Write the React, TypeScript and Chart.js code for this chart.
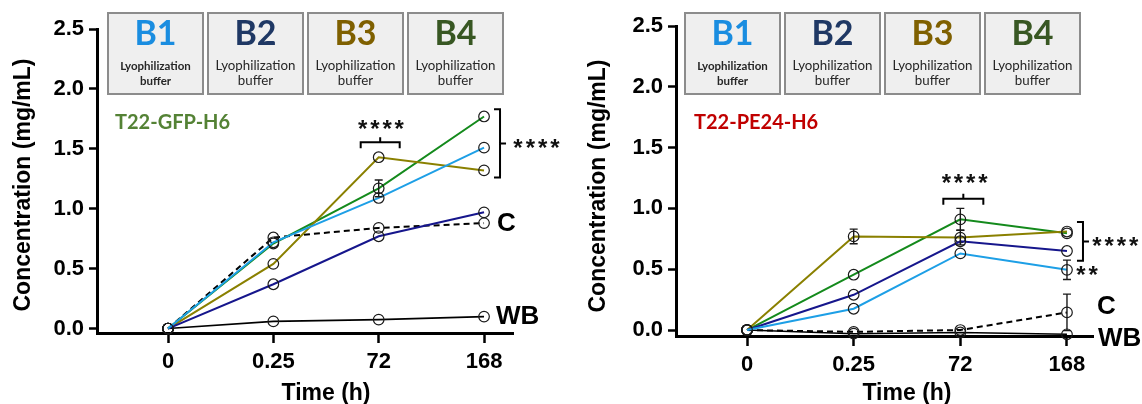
import React, { useEffect, useRef } from "react";
import { Chart, registerables } from "chart.js";

Chart.register(...registerables);

// ---------------- data ----------------
const timeLabels = ["0", "0.25", "72", "168"];
const yTickValues = [0, 0.5, 1.0, 1.5, 2.0, 2.5];
const bufferNames = ["B1", "B2", "B3", "B4"];
const bufferLine1 = "Lyophilization";
const bufferLine2 = "buffer";
const bufferTitleColors = ["#1a8de0", "#1f3864", "#7f6000", "#385723"];
const seriesNames = ["B1", "B2", "B3", "B4", "C", "WB"];
const lineColors = ["#1d9fe6", "#16168c", "#8a8000", "#148a1c", "#000000", "#000000"];

// Left panel: T22-GFP-H6
const gfpTitle = "T22-GFP-H6";
const gfpB1 = [0, 0.72, 1.09, 1.51];
const gfpB2 = [0, 0.37, 0.77, 0.97];
const gfpB3 = [0, 0.54, 1.43, 1.32];
const gfpB4 = [0, 0.71, 1.17, 1.77];
const gfpC = [0, 0.76, 0.84, 0.88];
const gfpWB = [0, 0.06, 0.075, 0.1];
const gfpB1Err = [0, 0, 0, 0];
const gfpB2Err = [0, 0, 0, 0];
const gfpB3Err = [0, 0, 0, 0];
const gfpB4Err = [0, 0, 0.07, 0];
const gfpCErr = [0, 0, 0, 0];
const gfpWBErr = [0, 0, 0, 0];

// Right panel: T22-PE24-H6
const peTitle = "T22-PE24-H6";
const peB1 = [0, 0.175, 0.63, 0.495];
const peB2 = [0, 0.29, 0.73, 0.65];
const peB3 = [0, 0.77, 0.76, 0.81];
const peB4 = [0, 0.455, 0.91, 0.795];
const peC = [0, -0.015, 0, 0.145];
const peWB = [0, -0.03, -0.02, -0.035];
const peB1Err = [0, 0, 0, 0.08];
const peB2Err = [0, 0, 0, 0];
const peB3Err = [0, 0.06, 0.06, 0];
const peB4Err = [0, 0, 0.09, 0];
const peCErr = [0, 0, 0, 0.15];
const peWBErr = [0, 0, 0, 0];

// significance labels
const sigFour = "****";
const sigTwo = "**";

// ---------------- styling ----------------
const AXFONT = '"Liberation Sans", Arial, sans-serif';
const BOXFONT = 'Lato, "Open Sans", sans-serif';
const W = 571;
const H = 404;

type Area = { left: number; right: number; top: number; bottom: number };

interface PanelSpec {
  offsetX: number;
  area: Area;
  xMin: number;
  xMax: number;
  yMin: number;
  yMax: number;
  values: number[][];
  errors: number[][];
  title: string;
  titleColor: string;
  titleX: number;
  boxOffset: number;
  yTitleX: number;
  yTitleY: number;
  annotate: (ctx: CanvasRenderingContext2D, px: (v: number) => number, py: (v: number) => number) => void;
}

function textMid(ctx: CanvasRenderingContext2D, text: string, x: number, cy: number, align: CanvasTextAlign) {
  ctx.textAlign = align;
  ctx.textBaseline = "alphabetic";
  const m = ctx.measureText(text);
  const a = m.actualBoundingBoxAscent;
  const d = m.actualBoundingBoxDescent;
  ctx.fillText(text, x, cy + (a - d) / 2);
}

function stars(ctx: CanvasRenderingContext2D, s: string, x0: number, cy: number, step: number) {
  ctx.font = `bold 24px ${AXFONT}`;
  ctx.fillStyle = "#111";
  for (let i = 0; i < s.length; i++) {
    textMid(ctx, s[i], x0 + i * step, cy, "center");
  }
}

function topBracket(ctx: CanvasRenderingContext2D, x1: number, x2: number, y: number) {
  ctx.strokeStyle = "#000";
  ctx.lineWidth = 2;
  ctx.beginPath();
  ctx.moveTo(x1, y + 6);
  ctx.lineTo(x1, y);
  ctx.lineTo(x2, y);
  ctx.lineTo(x2, y + 6);
  const cx = (x1 + x2) / 2;
  ctx.moveTo(cx, y);
  ctx.lineTo(cx, y - 5);
  ctx.stroke();
}

function sideBracket(ctx: CanvasRenderingContext2D, x: number, y1: number, y2: number) {
  ctx.strokeStyle = "#000";
  ctx.lineWidth = 2;
  ctx.beginPath();
  ctx.moveTo(x - 6, y1);
  ctx.lineTo(x, y1);
  ctx.lineTo(x, y2);
  ctx.lineTo(x - 6, y2);
  const cy = (y1 + y2) / 2;
  ctx.moveTo(x, cy);
  ctx.lineTo(x + 6, cy);
  ctx.stroke();
}

const leftPanel: PanelSpec = {
  offsetX: 0,
  area: { left: 97, right: 513, top: 29, bottom: 333 },
  xMin: -0.674,
  xMax: 3.275,
  yMin: -0.037,
  yMax: 2.5,
  values: [gfpB1, gfpB2, gfpB3, gfpB4, gfpC, gfpWB],
  errors: [gfpB1Err, gfpB2Err, gfpB3Err, gfpB4Err, gfpCErr, gfpWBErr],
  title: gfpTitle,
  titleColor: "#548235",
  titleX: 115,
  boxOffset: 11,
  yTitleX: 23,
  yTitleY: 185,
  annotate: (ctx, px, py) => {
    const x72 = px(2);
    const x168 = px(3);
    topBracket(ctx, x72 - 18, x72 + 21, py(1.555));
    stars(ctx, sigFour, x72 - 16, py(1.705), 12.2);
    sideBracket(ctx, x168 + 16, py(1.83), py(1.26));
    stars(ctx, sigFour, x168 + 34, py(1.545), 12.3);
    ctx.fillStyle = "#000";
    ctx.font = `bold 26px ${AXFONT}`;
    textMid(ctx, "C", x168 + 13, py(0.89), "left");
    textMid(ctx, "WB", x168 + 12, py(0.115), "left");
  },
};

const rightPanel: PanelSpec = {
  offsetX: 571,
  area: { left: 105, right: 522, top: 26, bottom: 336 },
  xMin: -0.666,
  xMax: 3.244,
  yMin: -0.049,
  yMax: 2.5,
  values: [peB1, peB2, peB3, peB4, peC, peWB],
  errors: [peB1Err, peB2Err, peB3Err, peB4Err, peCErr, peWBErr],
  title: peTitle,
  titleColor: "#c00000",
  titleX: 123,
  boxOffset: 9,
  yTitleX: 27.5,
  yTitleY: 186,
  annotate: (ctx, px, py) => {
    const x72 = px(2);
    const x168 = px(3);
    topBracket(ctx, x72 - 17, x72 + 23, py(1.08));
    stars(ctx, sigFour, x72 - 14, py(1.25), 12.2);
    sideBracket(ctx, x168 + 16, py(0.888), py(0.57));
    stars(ctx, sigFour, x168 + 30, py(0.728), 12.2);
    stars(ctx, sigTwo, x168 + 14, py(0.49), 12.2);
    ctx.fillStyle = "#000";
    ctx.font = `bold 26px ${AXFONT}`;
    textMid(ctx, "C", x168 + 30, py(0.205), "left");
    textMid(ctx, "WB", x168 + 31, py(-0.055), "left");
  },
};

function buildChart(canvas: HTMLCanvasElement, p: PanelSpec) {
  const datasets = p.values.map((vals, i) => ({
    label: seriesNames[i],
    data: vals.map((v, j) => ({ x: j, y: v })),
    borderColor: lineColors[i],
    borderWidth: seriesNames[i] === "WB" ? 1.6 : 2,
    borderDash: seriesNames[i] === "C" ? [6, 4] : [],
    pointRadius: 5.3,
    pointBorderColor: "#1a1a1a",
    pointBorderWidth: 1.2,
    pointBackgroundColor: "rgba(0,0,0,0)",
    backgroundColor: "rgba(0,0,0,0)",
    fill: false,
    tension: 0,
    clip: false as any,
  }));

  const overlay = {
    id: "overlay" + p.offsetX,
    afterDatasetsDraw(chart: any) {
      const ctx: CanvasRenderingContext2D = chart.ctx;
      const xs = chart.scales.x;
      const ys = chart.scales.y;
      ctx.save();
      ctx.strokeStyle = "#1a1a1a";
      ctx.lineWidth = 1.4;
      p.errors.forEach((errs, i) => {
        errs.forEach((e, j) => {
          if (!e) return;
          const v = p.values[i][j];
          const x = xs.getPixelForValue(j);
          const yTop = ys.getPixelForValue(v + e);
          const yBot = ys.getPixelForValue(v - e);
          ctx.beginPath();
          ctx.moveTo(x, yTop);
          ctx.lineTo(x, yBot);
          ctx.moveTo(x - 4, yTop);
          ctx.lineTo(x + 4, yTop);
          ctx.moveTo(x - 4, yBot);
          ctx.lineTo(x + 4, yBot);
          ctx.stroke();
        });
      });
      ctx.restore();
    },
    afterDraw(chart: any) {
      const ctx: CanvasRenderingContext2D = chart.ctx;
      const xs = chart.scales.x;
      const ys = chart.scales.y;
      const px = (v: number) => xs.getPixelForValue(v);
      const py = (v: number) => ys.getPixelForValue(v);
      const ca = chart.chartArea;
      ctx.save();
      // buffer boxes
      for (let i = 0; i < bufferNames.length; i++) {
        const bx = ca.left + p.boxOffset + i * 100;
        const by = 13;
        const bw = 95;
        const bh = 81;
        ctx.fillStyle = "#efefef";
        ctx.fillRect(bx, by, bw, bh);
        ctx.strokeStyle = "#8c8c8c";
        ctx.lineWidth = 2;
        ctx.strokeRect(bx, by, bw, bh);
        const cx = bx + bw / 2;
        ctx.textAlign = "center";
        ctx.textBaseline = "alphabetic";
        ctx.fillStyle = bufferTitleColors[i];
        ctx.font = `bold 34px ${BOXFONT}`;
        ctx.fillText(bufferNames[i], cx, 45);
        ctx.fillStyle = "#262626";
        ctx.font = i === 0 ? `bold 11.5px ${BOXFONT}` : `13.3px ${BOXFONT}`;
        ctx.fillText(bufferLine1, cx, 69.5);
        ctx.fillText(bufferLine2, cx, 85);
      }
      // protein title
      ctx.fillStyle = p.titleColor;
      ctx.font = `bold 20px ${BOXFONT}`;
      textMid(ctx, p.title, p.titleX, 121.7, "left");
      // axis titles
      ctx.fillStyle = "#000";
      ctx.font = `bold 23px ${AXFONT}`;
      textMid(ctx, "Time (h)", (px(0) + px(3)) / 2, 393, "center");
      ctx.save();
      ctx.translate(p.yTitleX, p.yTitleY);
      ctx.rotate(-Math.PI / 2);
      textMid(ctx, "Concentration (mg/mL)", 0, 0, "center");
      ctx.restore();
      // annotations
      p.annotate(ctx, px, py);
      ctx.restore();
    },
  };

  return new Chart(canvas, {
    type: "line",
    data: { datasets },
    options: {
      responsive: false,
      maintainAspectRatio: false,
      animation: false,
      devicePixelRatio: 1,
      layout: { padding: { left: 0, right: W - p.area.right, top: p.area.top, bottom: 0 } },
      plugins: { legend: { display: false }, tooltip: { enabled: false } },
      scales: {
        x: {
          type: "linear",
          min: p.xMin,
          max: p.xMax,
          afterBuildTicks: (s: any) => {
            s.ticks = timeLabels.map((_, i) => ({ value: i }));
          },
          afterFit: (s: any) => {
            s.height = H - p.area.bottom;
          },
          ticks: {
            autoSkip: false,
            maxRotation: 0,
            padding: 6,
            color: "#000",
            font: { family: AXFONT, size: 22, weight: "bold" },
            callback: (v: any) => timeLabels[Math.round(Number(v))],
          },
          grid: {
            drawOnChartArea: false,
            drawTicks: true,
            tickLength: 10,
            tickColor: "#000",
            tickWidth: 2.5,
            color: "#000",
          },
          border: { display: true, color: "#000", width: 3 },
        },
        y: {
          type: "linear",
          min: p.yMin,
          max: p.yMax,
          afterBuildTicks: (s: any) => {
            s.ticks = yTickValues.map((v) => ({ value: v }));
          },
          afterFit: (s: any) => {
            s.width = p.area.left;
          },
          ticks: {
            padding: 5,
            color: "#000",
            font: { family: AXFONT, size: 22, weight: "bold" },
            callback: (v: any) => Number(v).toFixed(1),
          },
          grid: {
            drawOnChartArea: false,
            drawTicks: true,
            tickLength: 8,
            tickColor: "#000",
            tickWidth: 2.5,
            color: "#000",
          },
          border: { display: true, color: "#000", width: 3 },
        },
      },
    } as any,
    plugins: [overlay],
  });
}

function Panel({ spec }: { spec: PanelSpec }) {
  const ref = useRef<HTMLCanvasElement | null>(null);
  useEffect(() => {
    if (!ref.current) return;
    const chart = buildChart(ref.current, spec);
    return () => chart.destroy();
  }, [spec]);
  return (
    <canvas
      ref={ref}
      width={W}
      height={H}
      style={{ position: "absolute", left: spec.offsetX, top: 0, width: W, height: H }}
    />
  );
}

export default function App() {
  return (
    <div
      style={{
        position: "absolute",
        left: 0,
        top: 0,
        width: 1142,
        height: 404,
        background: "#fff",
        overflow: "hidden",
      }}
    >
      <Panel spec={leftPanel} />
      <Panel spec={rightPanel} />
    </div>
  );
}
